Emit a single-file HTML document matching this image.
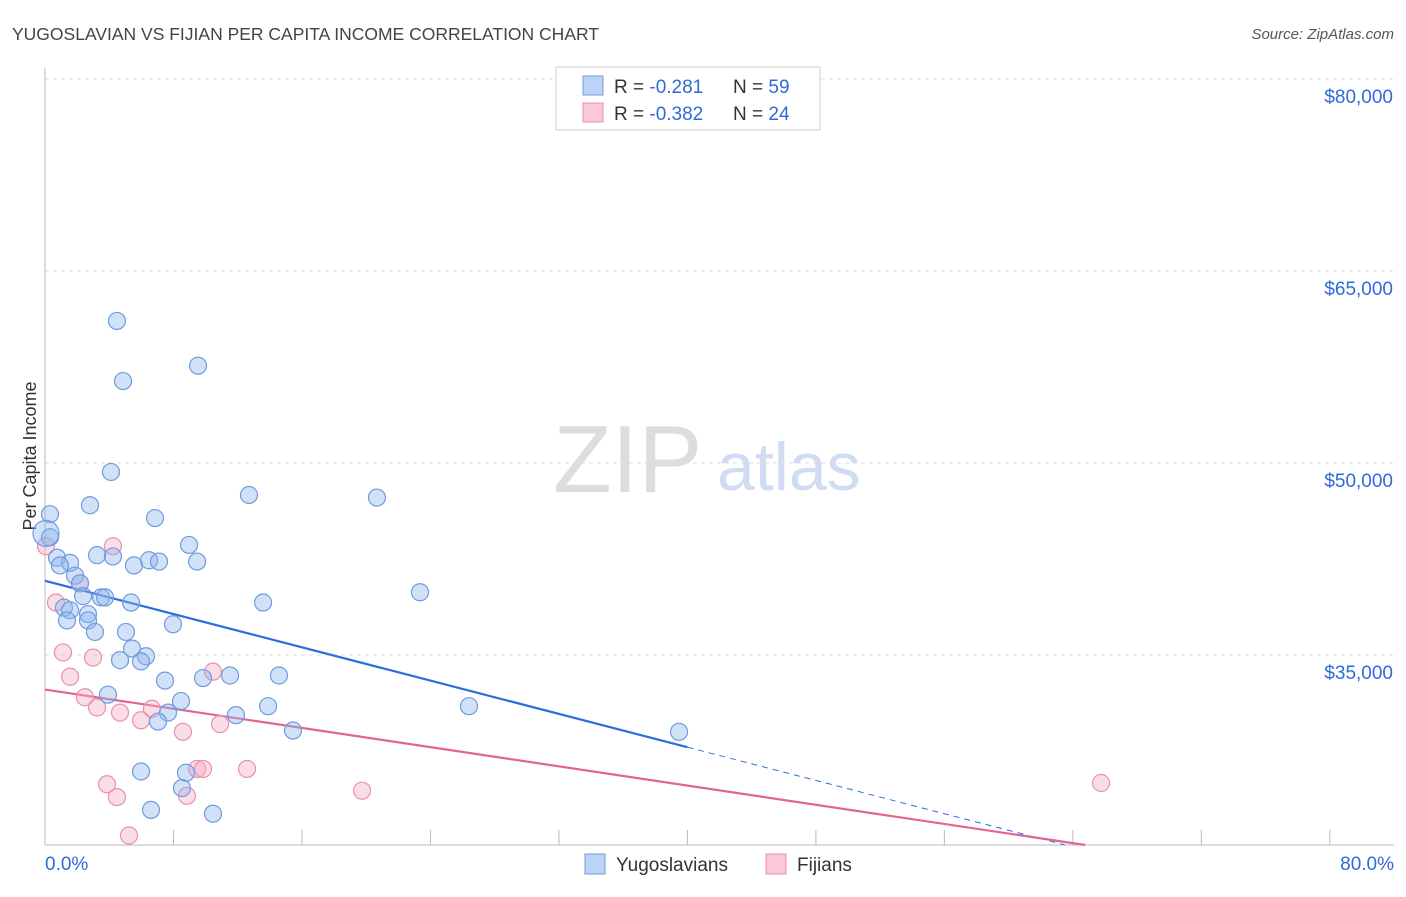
<!DOCTYPE html>
<html><head><meta charset="utf-8"><style>
body{margin:0;background:#fff;font-family:"Liberation Sans",sans-serif;}
svg text{font-family:"Liberation Sans",sans-serif;}
</style></head><body>
<svg id="c" width="1406" height="892">
<text x="12" y="40" font-size="17.5" fill="#444">YUGOSLAVIAN VS FIJIAN PER CAPITA INCOME CORRELATION CHART</text>
<text x="1394" y="39" font-size="15" fill="#555" text-anchor="end" font-style="italic">Source: ZipAtlas.com</text>
<text x="36" y="456" font-size="18" fill="#333" text-anchor="middle" transform="rotate(-90 36 456)">Per Capita Income</text>
<text x="553" y="492" font-size="96" fill="#ddd" font-family="Liberation Serif">ZIP</text>
<text x="717" y="490" font-size="68" fill="#cfdcf2">atlas</text>
<g id="grid"></g><g id="trend"></g><g id="pts"></g>
<g>
<rect x="556" y="67" width="264" height="63" fill="#fff" stroke="#ccc"/>
<rect x="583" y="76" width="20" height="19" fill="#bcd3f5" stroke="#6f9be0"/>
<rect x="583" y="103" width="20" height="19" fill="#f9c9d8" stroke="#e890ae"/>
<text x="614" y="93" font-size="19" fill="#333">R = <tspan fill="#2f6bd6">-0.281</tspan><tspan x="733">N = </tspan><tspan fill="#2f6bd6">59</tspan></text>
<text x="614" y="120" font-size="19" fill="#333">R = <tspan fill="#2f6bd6">-0.382</tspan><tspan x="733">N = </tspan><tspan fill="#2f6bd6">24</tspan></text>
</g>
<g>
<rect x="585" y="854" width="20" height="20" fill="#bcd3f5" stroke="#6f9be0"/>
<text x="616" y="871" font-size="19" fill="#333">Yugoslavians</text>
<rect x="766" y="854" width="20" height="20" fill="#f9c9d8" stroke="#e890ae"/>
<text x="797" y="871" font-size="19" fill="#333">Fijians</text>
</g>
</svg>
<script>
const yTicks=[80000,65000,50000,35000];
const yTickLabels=["$80,000","$65,000","$50,000","$35,000"];
const xTickLabels=["0.0%","80.0%"];
const bluePct=[4.48,4.86,9.53,4.11,12.70,20.67,2.80,6.85,0.31,0.31,8.97,3.24,4.23,6.48,7.10,9.47,5.54,0.75,1.56,0.93,1.87,2.18,2.37,3.49,3.74,5.36,13.58,23.35,1.18,1.56,2.68,2.68,1.37,7.97,3.11,5.04,5.42,6.29,4.67,5.98,14.57,7.47,9.84,11.52,3.92,8.47,7.66,11.89,13.89,26.40,7.04,15.44,39.48,5.98,8.78,8.53,6.60,10.46,0.06];
const blueInc=[61100,56400,57600,49300,47500,47300,46700,45700,46000,44200,43600,42800,42700,42400,42300,42300,42000,42600,42200,42000,41200,40600,39600,39500,39500,39100,39100,39900,38700,38500,38200,37700,37700,37400,36800,36800,35500,34900,34600,34500,33400,33000,33200,33400,31900,31400,30500,30300,31000,31000,29800,29100,29000,25900,25800,24600,22900,22600,44500];
const pinkPct=[4.23,0.06,2.18,0.68,1.12,2.99,1.56,10.46,2.49,3.24,4.67,6.66,5.98,10.90,8.59,9.47,9.84,12.58,3.86,4.48,8.84,19.74,65.76,5.23];
const pinkInc=[43500,43500,40600,39100,35200,34800,33300,33700,31700,30900,30500,30800,29900,29600,29000,26100,26100,26100,24900,23900,24000,24400,25000,20900];
const blueTrend=[40800,-325];
const pinkTrend=[32300,-187.5];
const X=p=>45+p*16.06, Y=v=>79+(80000-v)*0.0128;
const NS="http://www.w3.org/2000/svg";
function mk(t,a,parent){const e=document.createElementNS(NS,t);for(const k in a)e.setAttribute(k,a[k]);document.getElementById(parent).appendChild(e);return e;}
yTicks.forEach((v,i)=>{
 const l=mk('line',{x1:45,x2:1394,y1:Y(v),y2:Y(v),stroke:'#ddd','stroke-dasharray':'4,4'},'grid');
 
 
 const t=mk('text',{x:1393,y:Y(v)+24,'font-size':19,fill:'#2f6bd6','text-anchor':'end'},'grid');
 t.textContent=yTickLabels[i];
 
 
});
const ax=mk('line',{x1:45,x2:1394,y1:845,y2:845,stroke:'#bbb'},'grid');


const ay=mk('line',{x1:45,x2:45,y1:68,y2:845,stroke:'#bbb'},'grid');


for(let i=0;i<=10;i++){
 const t=mk('line',{x1:X(i*8),x2:X(i*8),y1:830,y2:845,stroke:'#bbb'},'grid');
 
 
}
[[0,'start',45],[1,'end',1394]].forEach(([i,a,x])=>{
 const t=mk('text',{x:x,y:870,'font-size':19,fill:'#2f6bd6','text-anchor':a},'grid');
 t.textContent=xTickLabels[i];
 
 
});
const vmin=80000-766/0.0128;
function trend(tr,col,solidEnd,name){
 const f=p=>tr[0]+tr[1]*p;
 const pEnd=(vmin-tr[0])/tr[1];
 const s=mk('line',{x1:X(0),y1:Y(f(0)),x2:X(Math.min(solidEnd,pEnd)),y2:Y(f(Math.min(solidEnd,pEnd))),stroke:col,'stroke-width':2.2},'trend');
 
 
 if(solidEnd<pEnd){
  const d=mk('line',{x1:X(solidEnd),y1:Y(f(solidEnd)),x2:X(pEnd),y2:Y(f(pEnd)),stroke:col,'stroke-width':1,'stroke-dasharray':'6,5'},'trend');
  
  
 }
}
function pts(P,V,fill,stroke,name){
 P.forEach((p,i)=>{
  const c=mk('circle',{cx:X(p),cy:Y(V[i]),r:(name==='yugoslavian'&&i===P.length-1)?13:8.5,fill:fill,stroke:stroke,'stroke-width':1.2},'pts');
  
  
 });
}
pts(pinkPct,pinkInc,'rgba(244,170,195,0.4)','#e890ae','fijian');
pts(bluePct,blueInc,'rgba(140,180,238,0.4)','#6f9be0','yugoslavian');
trend(blueTrend,'#2a6fdc',40,'yugoslavian');
trend(pinkTrend,'#e5648f',100,'fijian');
</script>
</body></html>
